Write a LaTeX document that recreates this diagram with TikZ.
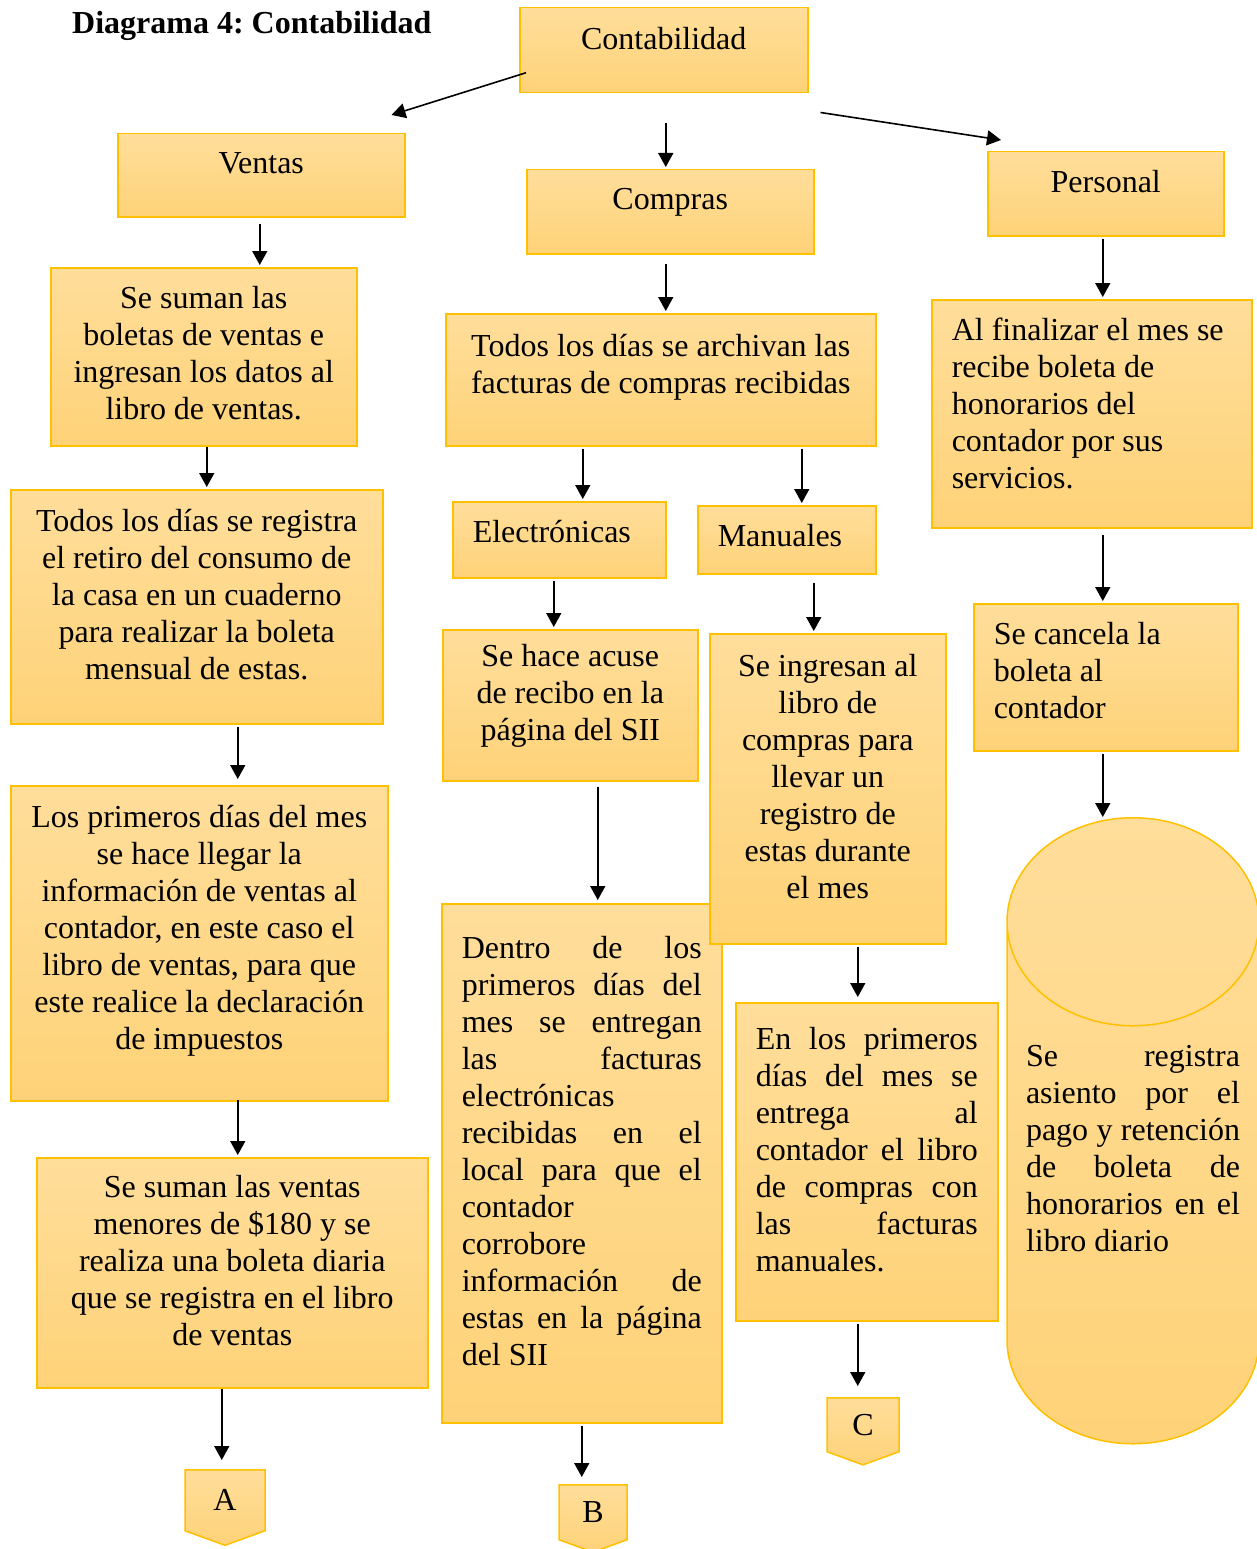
\documentclass[tikz,border=0pt]{standalone}
\usepackage{fontspec}
\setmainfont{Liberation Serif}
\usepackage{tikz}
\usetikzlibrary{arrows.meta,shapes.geometric,shapes.symbols}
\usepackage{xcolor}

\definecolor{borde}{RGB}{255,192,0}
\definecolor{claro}{RGB}{255,222,155}
\definecolor{oscuro}{RGB}{254,210,120}
\newcommand{\letra}{\fontsize{32}{37}\selectfont\frenchspacing}
% text block of a box: width, height, contents (shifted up by the optional value)
\newcommand{\contenido}[4][24pt]{\parbox[c][#3][c]{#2}{#4\par\vspace{#1}}}

\begin{document}
\begin{tikzpicture}[x=1pt,y=-1pt,>={Triangle[length=14pt,width=15pt]},
  caja/.style={draw=borde,line width=1.5pt,top color=claro,bottom color=oscuro,
    inner xsep=20pt,inner ysep=0pt,anchor=north west,font=\letra},
  conector/.style={signal,signal to=south,signal pointer angle=140,draw=borde,
    line width=1.5pt,top color=claro,bottom color=oscuro,inner sep=0pt,anchor=north,font=\letra},
  flecha/.style={->,line width=1.6pt}]
  \useasboundingbox (0,0) rectangle (1256,1549);

  \node[anchor=west,inner sep=0pt,font=\letra\bfseries] (titulo) at (72,26) {Diagrama 4: Contabilidad};
  \node[caja] (conta) at (519,7) {\contenido{248pt}{85pt}{\centering Contabilidad}};

  % Ventas
  \node[caja] (ventas) at (117,133) {\contenido{247pt}{83pt}{\centering Ventas}};
  \node[caja] (v1) at (50,267) {\contenido[8pt]{266pt}{178pt}{\centering Se suman las\\ boletas de ventas e\\ ingresan los datos al\\ libro de ventas.}};
  \node[caja] (v2) at (10,489) {\contenido{332pt}{234pt}{\centering Todos los días se registra\\ el retiro del consumo de\\ la casa en un cuaderno\\ para realizar la boleta\\ mensual de estas.}};
  \node[caja] (v3) at (10,785) {\contenido{337pt}{315pt}{\centering Los primeros días del mes\\ se hace llegar la\\ información de ventas al\\ contador, en este caso el\\ libro de ventas, para que\\ este realice la declaración\\ de impuestos}};
  \node[caja] (v4) at (36,1157) {\contenido{351pt}{230pt}{\centering Se suman las ventas\\ menores de \$180 y se\\ realiza una boleta diaria\\ que se registra en el libro\\ de ventas}};
  \node[conector] (A) at (225,1469) {\contenido[0pt]{80pt}{61pt}{\centering A}};

  % Compras
  \node[caja] (compras) at (526,169) {\contenido[18pt]{247pt}{84pt}{\centering Compras}};
  \node[caja] (c1) at (445,313) {\contenido{390pt}{132pt}{\centering Todos los días se archivan las\\ facturas de compras recibidas}};
  \node[caja] (elec) at (452,501) {\contenido[16pt]{173pt}{76pt}{\raggedright Electrónicas}};
  \node[caja] (manual) at (697,505) {\contenido[8pt]{138pt}{68pt}{\raggedright Manuales}};
  \node[caja] (c2) at (442,629) {\contenido[18pt]{215pt}{151pt}{\centering Se hace acuse\\ de recibo en la\\ página del SII}};
  \node[caja] (c3) at (441,903) {\contenido{240pt}{519pt}{Dentro\hfill de\hfill los\\ primeros\hfill días\hfill del\\ mes\hfill se\hfill entregan\\ las\hfill facturas\\ electrónicas\\ recibidas\hfill en\hfill el\\ local\hfill para\hfill que\hfill el\\ contador\\ corrobore\\ información\hfill de\\ estas\hfill en\hfill la\hfill página\\ del SII}};
  \node[conector] (B) at (593,1484) {\contenido[0pt]{68pt}{55pt}{\centering B}};
  \node[caja] (c4) at (709,633) {\contenido{196pt}{310pt}{\centering Se ingresan al\\ libro de\\ compras para\\ llevar un\\ registro de\\ estas durante\\ el mes}};
  \node[caja] (c5) at (735,1002) {\contenido{222pt}{318pt}{En\hfill los\hfill primeros\\ días\hfill del\hfill mes\hfill se\\ entrega\hfill al\\ contador\hfill el\hfill libro\\ de\hfill compras\hfill con\\ las\hfill facturas\\ manuales.}};
  \node[conector] (C) at (863,1397) {\contenido[0pt]{72pt}{54pt}{\centering C}};

  % Personal
  \node[caja] (personal) at (987,151) {\contenido{196pt}{84pt}{\centering Personal}};
  \node[caja] (p1) at (931,299) {\contenido[21pt]{280pt}{228pt}{\raggedright Al finalizar el mes se\\ recibe boleta de\\ honorarios del\\ contador por sus\\ servicios.}};
  \node[caja] (p2) at (973,603) {\contenido[14pt]{224pt}{147pt}{\raggedright Se cancela la\\ boleta al\\ contador}};
  \node[cylinder,shape border rotate=90,aspect=0.972,draw=borde,line width=1.5pt,
    top color=claro,bottom color=oscuro,minimum width=252pt,minimum height=626pt,
    inner sep=0pt,anchor=north,font=\letra] (cil) at (1133,817)
    {\contenido[70pt]{214pt}{220pt}{Se\hfill registra\\ asiento\hfill por\hfill el\\ pago\hfill y\hfill retención\\ de\hfill boleta\hfill de\\ honorarios\hfill en\hfill el\\ libro diario}};

  \draw[flecha] ([xshift=7pt,yshift=-22.5pt]conta.west) -- ([xshift=-14pt,yshift=18pt]ventas.north east);
  \draw[flecha] ([xshift=2pt,yshift=-30pt]conta.south) -- ([xshift=2pt,yshift=2pt]conta.south |- compras.north);
  \draw[flecha] ([xshift=12pt,yshift=-19pt]conta.south east) -- ([xshift=14pt,yshift=11pt]personal.north west);

  \draw[flecha] ([xshift=-1.5pt,yshift=-6pt]ventas.south) -- ([xshift=-1.5pt,yshift=2pt]ventas.south |- v1.north);
  \draw[flecha] ([xshift=3pt]v1.south) -- ([xshift=3pt,yshift=2pt]v1.south |- v2.north);
  \draw[flecha] ([xshift=41pt,yshift=-2pt]v2.south) -- ([xshift=41pt,yshift=6pt]v2.south |- v3.north);
  \draw[flecha] ([xshift=38.5pt,yshift=2pt]v3.south) -- ([xshift=38.5pt,yshift=2pt]v3.south |- v4.north);
  \draw[flecha] ([xshift=-10.5pt]v4.south) -- ([xshift=-10.5pt,yshift=9pt]v4.south |- A.north);

  \draw[flecha] ([xshift=-4.5pt,yshift=-9pt]compras.south) -- ([xshift=-4.5pt,yshift=2pt]compras.south |- c1.north);
  \draw[flecha] ([xshift=23.5pt,yshift=-2pt]elec.north |- c1.south) -- ([xshift=23.5pt,yshift=2pt]elec.north);
  \draw[flecha] ([xshift=15pt,yshift=-2pt]manual.north |- c1.south) -- ([xshift=15pt,yshift=2pt]manual.north);
  \draw[flecha] ([xshift=-5.5pt,yshift=-2pt]elec.south) -- ([xshift=-5.5pt,yshift=2pt]elec.south |- c2.north);
  \draw[flecha] ([xshift=-14pt,yshift=-8pt]c4.north |- manual.south) -- ([xshift=-14pt,yshift=2pt]c4.north);
  \draw[flecha] ([xshift=27.5pt,yshift=-5pt]c2.south) -- ([xshift=27.5pt,yshift=3pt]c2.south |- c3.north);
  \draw[flecha] ([yshift=-2pt]c3.south) -- ([yshift=7pt]c3.south |- B.north);
  \draw[flecha] ([xshift=-9pt,yshift=-2pt]c5.north |- c4.south) -- ([xshift=-9pt,yshift=5pt]c5.north);
  \draw[flecha] ([xshift=-9pt,yshift=-2pt]c5.south) -- ([xshift=-9pt,yshift=11pt]c5.south |- C.north);

  \draw[flecha] ([xshift=-3pt,yshift=-2pt]personal.south) -- ([xshift=-3pt,yshift=2pt]personal.south |- p1.north);
  \draw[flecha] ([xshift=-3pt,yshift=-6pt]p2.north |- p1.south) -- ([xshift=-3pt,yshift=2pt]p2.north);
  \draw[flecha] ([xshift=-3pt,yshift=-2pt]p2.south) -- ([xshift=-3pt]p2.south |- cil.north);
\end{tikzpicture}
\end{document}
